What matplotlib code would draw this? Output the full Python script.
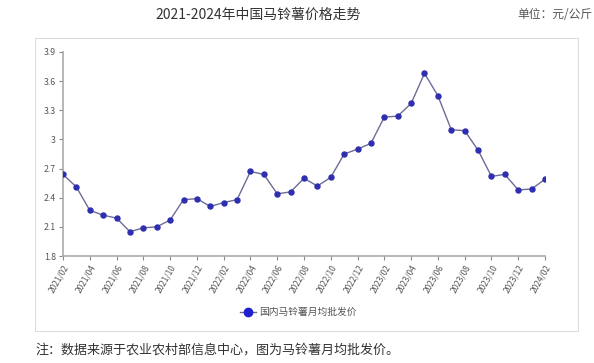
import matplotlib
matplotlib.use("Agg")
import matplotlib.pyplot as plt
from matplotlib.patches import Rectangle
from matplotlib.lines import Line2D

plt.rcParams['font.family'] = ['Noto Sans CJK SC', 'DejaVu Sans']

months = [f"{y}/{m:02d}" for y in range(2021, 2025) for m in range(1, 13)][1:38]
prices = [2.64, 2.51, 2.27, 2.22, 2.19, 2.05, 2.09, 2.10, 2.17, 2.38, 2.39,
          2.31, 2.35, 2.38, 2.67, 2.64, 2.44, 2.46, 2.60, 2.52, 2.61, 2.85,
          2.90, 2.96, 3.23, 3.24, 3.37, 3.68, 3.45, 3.10, 3.09, 2.89, 2.62,
          2.64, 2.48, 2.49, 2.59]
yticks = [1.8, 2.1, 2.4, 2.7, 3.0, 3.3, 3.6, 3.9]
ytick_labels = ["1.8", "2.1", "2.4", "2.7", "3", "3.3", "3.6", "3.9"]
title = "2021-2024年中国马铃薯价格走势"
unit = "单位：元/公斤"
series_name = "国内马铃薯月均批发价"
note = "注：数据来源于农业农村部信息中心，图为马铃薯月均批发价。"

W, H = 594, 363
fig = plt.figure(figsize=(W / 100, H / 100), dpi=100)

# outer frame
fig.patches.append(Rectangle((35 / W, 1 - 331 / H), (578 - 35) / W, (331 - 38) / H,
                             transform=fig.transFigure, fill=False,
                             edgecolor='#dcdcdc', linewidth=0.8))

ax = fig.add_axes([63 / W, 1 - 256 / H, (545 - 63) / W, (256 - 52) / H])
x = list(range(len(months)))
ax.plot(x, prices, color='#6c6c96', linewidth=1.0, marker='o', markersize=3.6,
        markerfacecolor='#2e2eb0', markeredgecolor='#2e2eb0', zorder=3)

ax.set_xlim(0, len(months) - 1)
ax.set_ylim(1.8, 3.9)
ax.set_yticks(yticks)
ax.set_yticklabels(ytick_labels, fontsize=6.3, color='#555555')
ax.set_xticks(x[::2])
ax.set_xticklabels(months[::2], rotation=60, ha='right', rotation_mode='anchor',
                   fontsize=6, color='#555555')
for s in ['top', 'right']:
    ax.spines[s].set_visible(False)
for s in ['left', 'bottom']:
    ax.spines[s].set_color('#aaaaaa')
    ax.spines[s].set_linewidth(1.2)
ax.tick_params(axis='both', length=3, width=0.8, color='#888888', pad=2)

fig.text(258 / W, 1 - 15 / H, title, ha='center', va='center', fontsize=10, color='#333333')
fig.text(592 / W, 1 - 15 / H, unit, ha='right', va='center', fontsize=8.5, color='#555555')

fig.add_artist(Line2D([240 / W, 256 / W], [1 - 312 / H, 1 - 312 / H], transform=fig.transFigure,
                      color='#6c6c96', linewidth=1.0))
fig.add_artist(Line2D([248 / W], [1 - 312 / H], transform=fig.transFigure, marker='o',
                      markersize=6, color='#2020d0', linestyle='none'))
fig.text(259 / W, 1 - 312 / H, series_name, ha='left', va='center', fontsize=7, color='#555555')

fig.text(36 / W, 1 - 350 / H, note, ha='left', va='center', fontsize=9.4, color='#333333')

fig.savefig("out.png", dpi=100)
